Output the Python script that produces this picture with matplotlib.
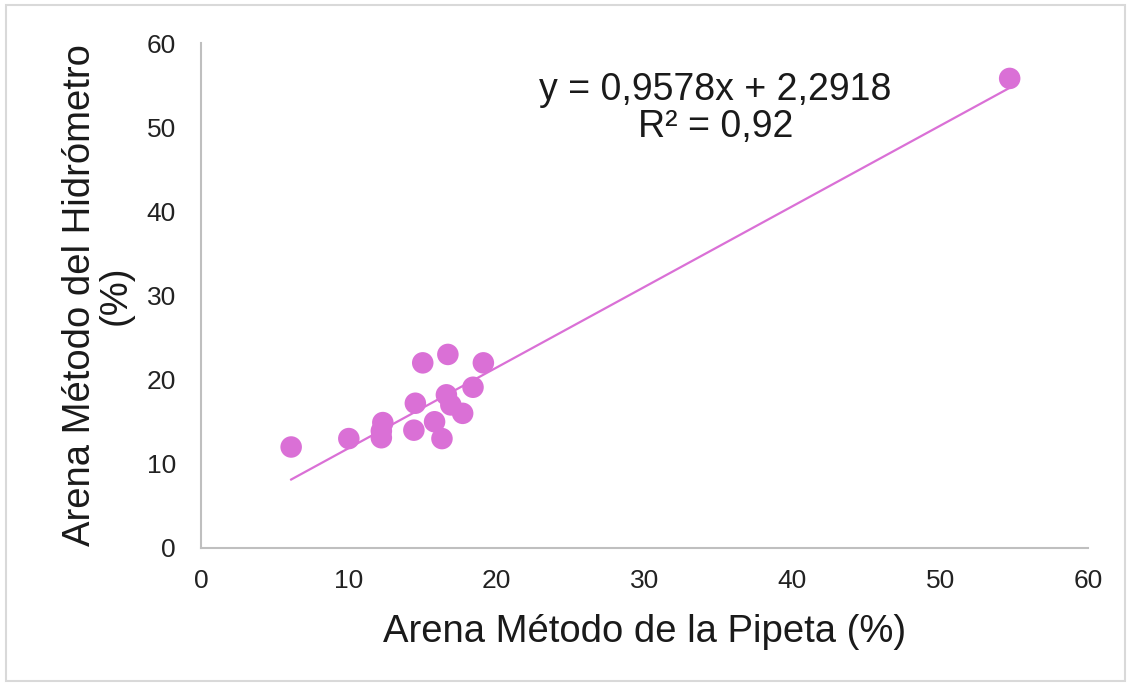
import numpy as np
import matplotlib.pyplot as plt
from matplotlib.patches import Rectangle

# Arena: pipeta vs hidrometro (%)
pipeta = [6.1, 10.0, 12.3, 12.2, 12.2, 14.5, 14.4, 15.0, 16.7, 19.1,
          15.8, 16.3, 16.6, 16.9, 17.7, 18.4, 54.7]
hidrometro = [12.0, 13.0, 14.9, 13.9, 13.1, 17.2, 14.0, 22.0, 23.0, 22.0,
              15.0, 13.0, 18.2, 17.0, 16.0, 19.1, 55.8]

slope = 0.9578
intercept = 2.2918
r2 = 0.92

color = '#DA70D6'

plt.rcParams['font.family'] = ['Liberation Sans', 'DejaVu Sans']

fig = plt.figure(figsize=(11.31, 6.86), dpi=100)
ax = fig.add_axes([0.1777, 0.2012, 0.7843, 0.736])

ax.scatter(pipeta, hidrometro, s=240, color=color, edgecolors='none', zorder=3)

# linear trendline
xl = np.array([min(pipeta), max(pipeta)])
ax.plot(xl, slope * xl + intercept, color=color, lw=1.6, zorder=2)

ax.text(34.8, 52.2, 'y = 0,9578x + 2,2918\nR² = 0,92', ha='center', va='center',
        fontsize=27, color='#1a1a1a', linespacing=1.05)

ax.set_xlim(0, 60)
ax.set_ylim(0, 60)
ax.set_xticks(range(0, 61, 10))
ax.set_yticks(range(0, 61, 10))
ax.tick_params(length=0, labelsize=19, colors='#222222')
ax.tick_params(axis='x', pad=15)
ax.tick_params(axis='y', pad=18)
for s in ['top', 'right']:
    ax.spines[s].set_visible(False)
for s in ['left', 'bottom']:
    ax.spines[s].set_color('#BFBFBF')
    ax.spines[s].set_linewidth(1.5)

ax.set_xlabel('Arena Método de la Pipeta (%)', fontsize=27.5, color='#1a1a1a', labelpad=15)
ax.set_ylabel('Arena Método del Hidrómetro\n(%)', fontsize=27.5, color='#1a1a1a',
              labelpad=9, linespacing=1.0)

# light frame around the chart
fig.patches.append(Rectangle((0.005, 0.007), 0.99, 0.986, transform=fig.transFigure,
                             fill=False, edgecolor='#D9D9D9', lw=1.5))

fig.savefig('out.png', dpi=100)
